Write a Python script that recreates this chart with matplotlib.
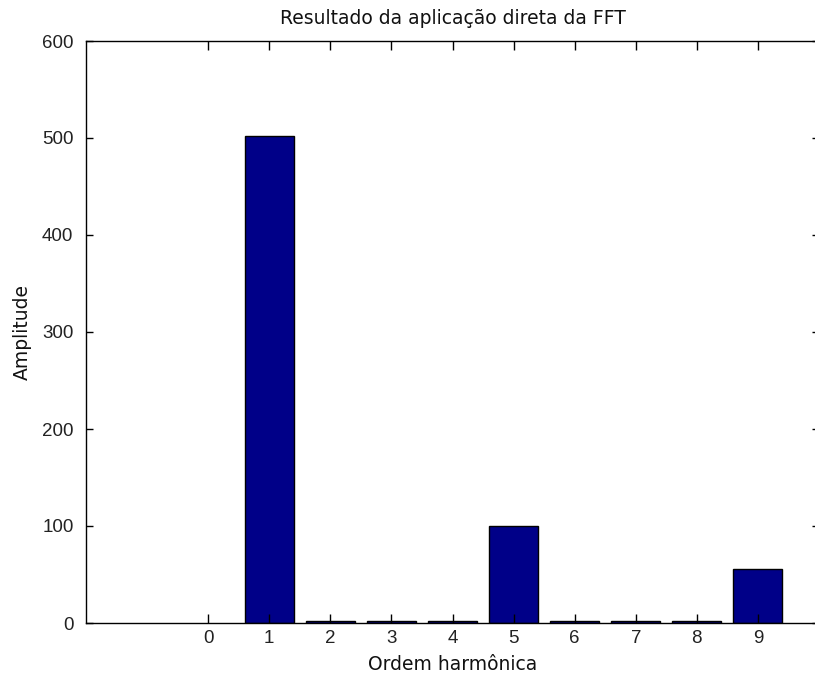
import matplotlib.pyplot as plt
import numpy as np

# ======= DATA =======
harmonics = [0, 1, 2, 3, 4, 5, 6, 7, 8, 9]
amplitude = [0, 502, 2, 2, 2, 100, 2, 2, 2, 56]

plt.rcParams['font.family'] = ['DejaVu Sans']

fig = plt.figure(figsize=(8.15, 6.81), dpi=100)
ax = fig.add_axes([86 / 815, 1 - 623 / 681, (819 - 86) / 815, (623 - 41) / 681])

# no outline on empty bars so the baseline stays clean
edge_w = [0 if a == 0 else 1 for a in amplitude]
ax.bar(harmonics, amplitude, width=0.8, color='#000088', edgecolor='black', linewidth=edge_w)

ax.set_xlim(-2, 10)
ax.set_ylim(0, 600)
ax.set_xticks(harmonics)
ax.set_yticks(np.arange(0, 601, 100))
ax.tick_params(direction='in', top=True, right=True, width=1)
ax.tick_params(axis='x', length=6.5, pad=5)
ax.tick_params(axis='y', length=5, pad=9)
for lab in ax.get_xticklabels() + ax.get_yticklabels():
    lab.set_fontfamily('Liberation Sans')
    lab.set_fontsize(13.5)
    lab.set_color('#222222')
for s in ax.spines.values():
    s.set_linewidth(1)

ax.set_title("Resultado da aplicação direta da FFT", fontsize=13.5, pad=12, color='#111111')
ax.set_xlabel("Ordem harmônica", fontsize=13.5, labelpad=6, color='#111111')
ax.set_ylabel("Amplitude", fontsize=13.5, labelpad=7, color='#111111')

plt.savefig("out.png", dpi=100)
